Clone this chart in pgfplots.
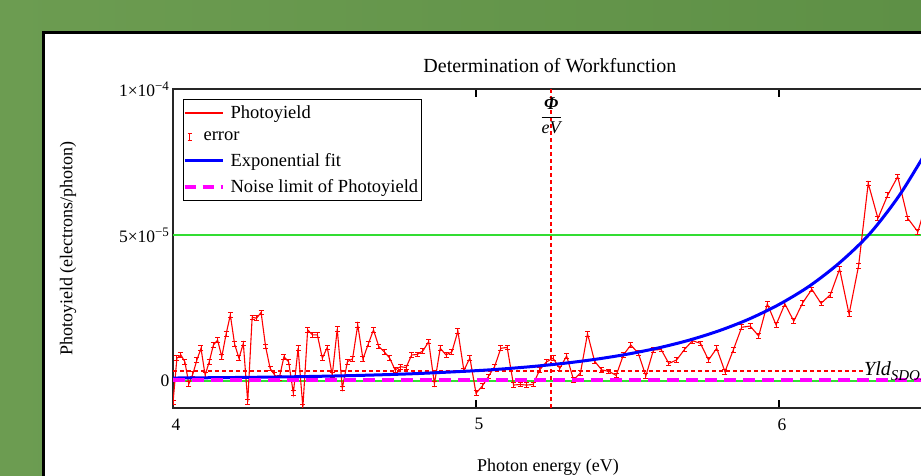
\documentclass[border=0pt]{standalone}
\usepackage{fontspec}
\setmainfont{Liberation Serif}
\usepackage{pgfplots}
\usepackage{pgfplotstable}
\pgfplotsset{compat=1.18}
\definecolor{bgA}{HTML}{6C9C51}
\definecolor{bgB}{HTML}{5E9046}
\definecolor{gline}{HTML}{33DD33}
\definecolor{mag}{HTML}{FF00FF}
\definecolor{pred}{HTML}{FF0000}

% Photoyield (units of 1e-6 electrons/photon) vs photon energy (eV)
\pgfplotstableread{
x y
4.0000 -7.4
4.0129 7.8
4.0260 8.9
4.0391 6.6
4.0523 -1.0
4.0656 2.4
4.0789 7.2
4.0924 11.2
4.1060 2.0
4.1196 6.6
4.1333 12.3
4.1472 14.0
4.1611 8.3
4.1751 16.0
4.1892 22.6
4.2034 12.6
4.2177 7.8
4.2321 12.9
4.2466 -7.1
4.2612 21.8
4.2759 21.5
4.2907 23.5
4.3056 11.8
4.3206 4.3
4.3357 2.0
4.3509 1.1
4.3662 8.3
4.3816 6.6
4.3972 -4.2
4.4128 11.2
4.4286 -9.0
4.4444 17.5
4.4604 15.8
4.4765 15.8
4.4928 7.8
4.5091 11.5
4.5255 2.0
4.5421 17.8
4.5588 -2.5
4.5756 6.6
4.5926 7.6
4.6097 19.2
4.6269 7.5
4.6442 12.6
4.6617 17.5
4.6792 11.8
4.6970 10.0
4.7148 7.9
4.7328 3.8
4.7510 4.9
4.7692 4.6
4.7876 8.9
4.8062 9.1
4.8249 10.3
4.8438 13.5
4.8627 -1.0
4.8819 11.2
4.9012 8.9
4.9206 10.0
4.9402 17.1
4.9600 3.6
4.9799 7.9
5.0000 -4.2
5.0202 -1.8
5.0407 1.5
5.0612 4.9
5.0820 11.2
5.1029 11.5
5.1240 -1.4
5.1452 -1.2
5.1667 -1.4
5.1883 -1.2
5.2101 3.8
5.2321 6.5
5.2542 7.8
5.2766 4.3
5.2991 8.6
5.3219 0.4
5.3448 2.8
5.3680 16.2
5.3913 6.8
5.4148 3.8
5.4386 3.3
5.4626 1.9
5.4867 9.0
5.5111 12.3
5.5357 9.5
5.5605 1.7
5.5856 10.6
5.6109 10.8
5.6364 6.0
5.6621 7.2
5.6881 10.8
5.7143 13.8
5.7407 12.9
5.7674 7.2
5.7944 11.2
5.8216 3.2
5.8491 10.6
5.8768 18.4
5.9048 18.8
5.9330 15.4
5.9615 26.4
5.9903 19.2
6.0194 26.4
6.0488 20.5
6.0784 26.8
6.1084 31.4
6.1386 26.6
6.1692 29.5
6.2000 38.3
6.2312 22.9
6.2626 39.4
6.2944 67.7
6.3265 55.7
6.3590 63.7
6.3918 70.0
6.4249 55.7
6.4583 51.1
6.4921 63.0
6.5263 60.0
}\yielddata

% Exponential fit (units of 1e-6)
\pgfplotstableread{
x y
4.0 1.01
4.2 1.19
4.4 1.45
4.6 1.87
4.8 2.52
5.0 3.53
5.1 4.22
5.2 5.09
5.3 6.17
5.4 7.51
5.5 9.19
5.6 11.28
5.7 13.88
5.8 17.12
5.9 21.16
6.0 26.20
6.1 32.48
6.2 40.50
6.3 50.50
6.4 64.00
6.5 81.00
}\fitdata

\begin{document}
\begin{tikzpicture}[x=1pt,y=1pt]
\useasboundingbox (0,0) rectangle (921,476);
\clip (0,0) rectangle (921,476);
\shade[left color=bgA, right color=bgB] (0,0) rectangle (921,476);
\fill[white] (42,-10) rectangle (940,445);
\draw[black, line width=3pt] (43.5,-10) -- (43.5,443.5) -- (940,443.5);
\begin{axis}[
  at={(173pt,68pt)}, anchor=south west,
  scale only axis, width=757.5pt, height=319pt,
  xmin=4, xmax=6.5, ymin=-9.25, ymax=100,
  xtick={4,5,6}, xticklabels={4,5,6},
  ytick={0,50,100},
  yticklabels={0,5×10\textsuperscript{\fontsize{13}{13}\selectfont −5},1×10\textsuperscript{\fontsize{13}{13}\selectfont −4}},
  tick align=inside, major tick length=8pt,
  ytick style={draw=none},
  xtick style={black, line width=1.2pt},
  axis line style={black!85, line width=1.6pt},
  tick label style={font=\fontsize{17.5}{20}\selectfont},
  xticklabel style={xshift=3pt, yshift=-7pt},
  title={Determination of Workfunction},
  title style={font=\fontsize{20}{23}\selectfont, at={(axis description cs:0.4975,1)}, anchor=center, yshift=17pt},
  xlabel={Photon energy (eV)},
  xlabel style={font=\fontsize{18}{21}\selectfont, at={(axis description cs:0.495,-0.1850)}, anchor=center},
  ylabel={Photoyield (electrons/photon)},
  ylabel style={font=\fontsize{18}{21}\selectfont, at={(axis description cs:-0.1386,0.5)}, anchor=center},
  legend style={at={(axis description cs:0.0132,0.9687)}, anchor=north west,
    draw=black, line width=1.2pt, fill=white,
    font=\fontsize{18.5}{21}\selectfont,
    inner xsep=1pt, inner ysep=4.5pt, row sep=7.5pt,
    nodes={inner sep=2pt}},
  legend cell align=left,
  clip=true,
]
\addlegendimage{legend image code/.code={\draw[draw=pred, line width=1.5pt, overlay] (0pt,0pt) -- (38pt,0pt); \path[draw=none, fill=none] (0pt,-3pt) rectangle (17pt,3pt);}}
\addlegendentry{\hspace*{27pt}Photoyield}
\addlegendimage{legend image code/.code={\draw[draw=pred, line width=1.1pt] (5pt,-3.5pt) -- (5pt,3.5pt) (3pt,-3.5pt) -- (7pt,-3.5pt) (3pt,3.5pt) -- (7pt,3.5pt); \path[draw=none, fill=none] (0pt,-3pt) rectangle (17pt,3pt);}}
\addlegendentry{error}
\addlegendimage{legend image code/.code={\draw[draw=blue, line width=3pt, overlay] (0pt,0pt) -- (38pt,0pt); \path[draw=none, fill=none] (0pt,-3pt) rectangle (17pt,3pt);}}
\addlegendentry{\hspace*{27pt}Exponential fit}
\addlegendimage{legend image code/.code={\draw[draw=mag, line width=4pt, dash pattern=on 11pt off 7pt, overlay] (0pt,0pt) -- (38pt,0pt); \path[draw=none, fill=none] (0pt,-3pt) rectangle (17pt,3pt);}}
\addlegendentry{\hspace*{27pt}Noise limit of Photoyield}

% marker lines
\addplot[draw=gline, line width=1.5pt, forget plot] coordinates {(4,0) (6.5,0)};
\addplot[draw=gline, line width=1.5pt, forget plot] coordinates {(4,50) (6.5,50)};
\addplot[draw=pred, color=pred, line width=1.2pt, dash pattern={on 4pt off 3pt}, forget plot] coordinates {(4,3.4) (6.2805,3.4)};
\addplot[draw=pred, color=pred, line width=1.3pt, dash pattern={on 4pt off 3pt}, forget plot] coordinates {(5.248,-9.25) (5.248,100)};

% photoyield with error bars
\addplot[draw=pred, color=pred, line width=1.1pt, forget plot,
  error bars/.cd, y dir=both, y fixed=0.8,
  error mark options={pred, rotate=90, mark size=2.5pt, line width=0.9pt},
  error bar style={pred, line width=0.9pt}] table[x=x, y=y] {\yielddata};

% exponential fit
\addplot[blue, line width=3pt, smooth, forget plot] table[x=x, y=y] {\fitdata};

% noise limit
\addplot[draw=mag, line width=4pt, dash pattern={on 12pt off 7pt}, forget plot] coordinates {(4,0.4) (6.5,0.4)};

\node[font=\fontsize{18}{21}\selectfont] at (axis cs:5.248,90.8) {$\displaystyle\frac{\mbox{\bfseries\itshape Φ}}{\mbox{\itshape eV}}$};
\node[anchor=base west, inner sep=0pt, font=\fontsize{20}{22}\selectfont] at (axis cs:6.2805,2.0) {\itshape Yld\raisebox{-5pt}{\fontsize{15}{15}\selectfont SDONoise}};
\end{axis}
\end{tikzpicture}
\end{document}
